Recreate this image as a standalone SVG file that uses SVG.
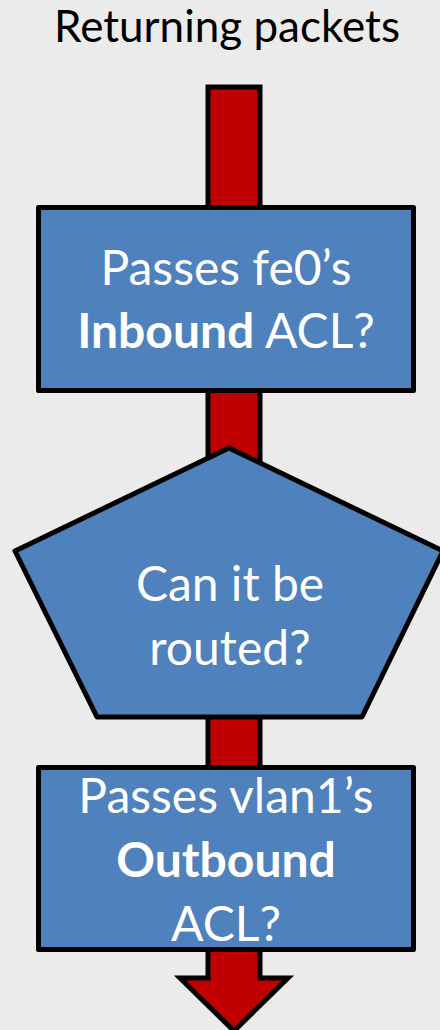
<svg xmlns="http://www.w3.org/2000/svg" width="440" height="1030" viewBox="0 0 440 1030">
  <style>
    .bg { fill: #EBEBEB; }
    .flow { fill: #C00000; stroke: #000000; stroke-width: 5; stroke-linejoin: miter; }
    .step { fill: #4F81BD; stroke: #000000; stroke-width: 5; stroke-linejoin: round; }
    .title { font-family: Lato, "Open Sans", "Liberation Sans", sans-serif; font-size: 44px; fill: #000000; text-anchor: middle; }
    .label { font-family: Lato, "Open Sans", "Liberation Sans", sans-serif; font-size: 48px; fill: #FFFFFF; text-anchor: middle; }
    .label .b { font-weight: bold; }
  </style>

  <rect class="bg" x="0" y="0" width="440" height="1030"/>

  <text class="title" x="227" y="42">Returning packets</text>

  <!-- one thick down arrow running behind all the steps -->
  <g id="connectors">
    <polygon class="flow" points="208,87 260,87 260,978 288,978 234,1031 180,978 208,978"/>
  </g>

  <g id="node-inbound">
    <rect class="step" x="38.5" y="207.5" width="375" height="183"/>
    <text class="label" x="226" y="285">Passes fe0’s</text>
    <text class="label" x="226" y="348"><tspan class="b">Inbound</tspan> ACL?</text>
  </g>

  <g id="node-route">
    <polygon class="step" points="229,448 443,551 362,717 97,717 15,551"/>
    <text class="label" x="230" y="601">Can it be</text>
    <text class="label" x="230" y="665">routed?</text>
  </g>

  <g id="node-outbound">
    <rect class="step" x="38.5" y="767.5" width="375" height="182"/>
    <text class="label" x="226" y="813">Passes vlan1’s</text>
    <text class="label" x="226" y="877"><tspan class="b">Outbound</tspan></text>
    <text class="label" x="226" y="941">ACL?</text>
  </g>
</svg>
